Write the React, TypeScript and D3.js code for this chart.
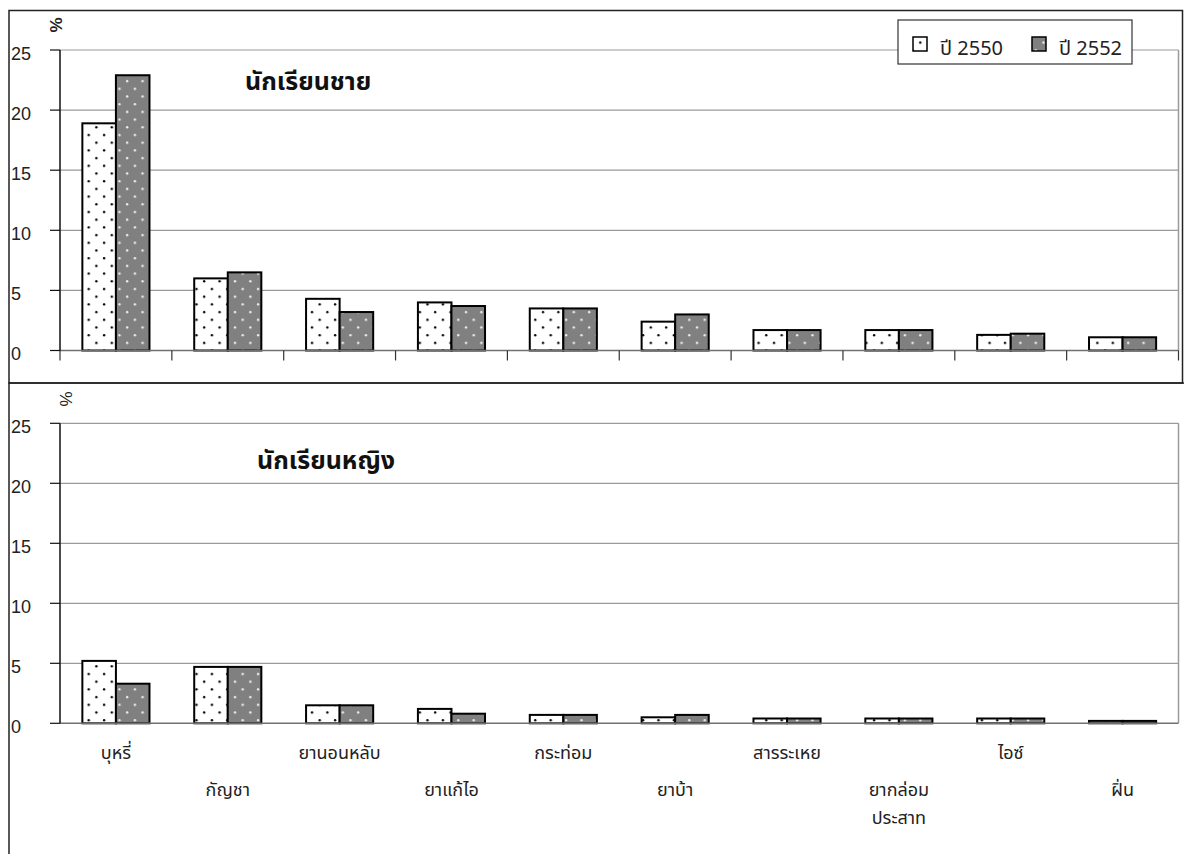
import React from "react";
import * as d3 from "d3";

const categories = [
  "บุหรี่",
  "กัญชา",
  "ยานอนหลับ",
  "ยาแก้ไอ",
  "กระท่อม",
  "ยาบ้า",
  "สารระเหย",
  "ยากล่อม\nประสาท",
  "ไอซ์",
  "ฝิ่น",
];
const seriesNames = ["ปี 2550", "ปี 2552"];
const male2550 = [18.9, 6.0, 4.3, 4.0, 3.5, 2.4, 1.7, 1.7, 1.3, 1.1];
const male2552 = [22.9, 6.5, 3.2, 3.7, 3.5, 3.0, 1.7, 1.7, 1.4, 1.1];
const female2550 = [5.2, 4.7, 1.5, 1.2, 0.7, 0.5, 0.4, 0.4, 0.4, 0.2];
const female2552 = [3.3, 4.7, 1.5, 0.8, 0.7, 0.7, 0.4, 0.4, 0.4, 0.2];
const yTicks = [0, 5, 10, 15, 20, 25];
const panelTitles = ["นักเรียนชาย", "นักเรียนหญิง"];

const THAI = '"Noto Sans Thai", "Loma", "Garuda", "Tahoma", "Noto Sans", sans-serif';
const LATIN = '"Liberation Sans", Arial, sans-serif';
const PLOT_L = 60;
const PLOT_R = 1178.5;
const fills = ["url(#dotsWhite)", "url(#dotsGray)"];

type PanelProps = {
  topY: number;
  zeroY: number;
  a: number[];
  b: number[];
  title: string;
  titleX: number;
  titleY: number;
  catTicks: boolean;
  pctX: number;
  pctY: number;
  pctBold: boolean;
};

function Panel(p: PanelProps) {
  const x = d3.scaleBand<string>().domain(categories).range([PLOT_L, PLOT_R]);
  const bw = x.bandwidth();
  const inner = d3
    .scaleBand<string>()
    .domain(["0", "1"])
    .range([bw * 0.2, bw * 0.8]);
  const y = d3.scaleLinear().domain([0, 25]).range([p.zeroY, p.topY]);
  const series = [p.a, p.b];
  const boundaries = d3.range(categories.length + 1).map((i) => PLOT_L + i * bw);
  return (
    <g>
      {yTicks
        .filter((t) => t > 0)
        .map((t) => (
          <line key={"g" + t} x1={PLOT_L} x2={PLOT_R} y1={y(t)} y2={y(t)} stroke="#9a9a9a" strokeWidth={1.2} />
        ))}
      <line x1={PLOT_R} x2={PLOT_R} y1={y(25)} y2={y(0)} stroke="#9a9a9a" strokeWidth={1.5} />
      {series.map((vals, si) =>
        vals.map((v, i) => (
          <rect
            key={si + "-" + i}
            x={(x(categories[i]) as number) + (inner(String(si)) as number)}
            y={y(v)}
            width={inner.bandwidth()}
            height={y(0) - y(v)}
            fill={fills[si]}
            stroke="#000"
            strokeWidth={2}
          />
        ))
      )}
      <line x1={PLOT_L} x2={PLOT_R} y1={y(0)} y2={y(0)} stroke="#707070" strokeWidth={1.6} />
      {p.catTicks &&
        boundaries.map((bx, i) => (
          <line key={"ct" + i} x1={bx} x2={bx} y1={y(0)} y2={y(0) + 10} stroke="#333" strokeWidth={1.2} />
        ))}
      <line x1={PLOT_L} x2={PLOT_L} y1={y(25)} y2={y(0)} stroke="#111" strokeWidth={1.5} />
      {yTicks.map((t) => (
        <g key={"yt" + t}>
          <line x1={PLOT_L - 10} x2={PLOT_L} y1={y(t)} y2={y(t)} stroke="#111" strokeWidth={1.2} />
          <text x={11} y={y(t) + 9.5} fontFamily={LATIN} fontSize={18} fill="#222">
            {t}
          </text>
        </g>
      ))}
      <text
        transform={`translate(${p.pctX},${p.pctY}) rotate(-90)`}
        textAnchor="middle"
        fontFamily={LATIN}
        fontSize={17}
        fontWeight={p.pctBold ? "bold" : "normal"}
        fill="#222"
      >
        %
      </text>
      <text x={p.titleX} y={p.titleY} fontFamily={THAI} fontSize={25} fontWeight="bold" fill="#111">
        {p.title}
      </text>
    </g>
  );
}

export default function App() {
  const x = d3.scaleBand<string>().domain(categories).range([PLOT_L, PLOT_R]);
  const bw = x.bandwidth();
  const rowBase = [759, 796];
  return (
    <svg
      width={1184}
      height={854}
      style={{ position: "absolute", left: 0, top: 0, background: "#fff" }}
    >
      <defs>
        <pattern id="dotsWhite" patternUnits="userSpaceOnUse" width={15.4} height={15.4}>
          <rect width={15.4} height={15.4} fill="#fff" />
          <circle cx={4} cy={4} r={1.2} fill="#000" />
          <circle cx={11.7} cy={11.7} r={1.2} fill="#000" />
        </pattern>
        <pattern id="dotsGray" patternUnits="userSpaceOnUse" width={15.4} height={15.4}>
          <rect width={15.4} height={15.4} fill="#808080" />
          <circle cx={4} cy={4} r={1.2} fill="#f0f0f0" />
          <circle cx={11.7} cy={11.7} r={1.2} fill="#f0f0f0" />
        </pattern>
      </defs>
      <rect x={0} y={0} width={1184} height={854} fill="#fff" />
      {/* outer frames */}
      <rect x={9} y={10.5} width={1173.5} height={372.5} fill="none" stroke="#222" strokeWidth={1.5} />
      <rect x={9} y={383} width={1190} height={500} fill="none" stroke="#222" strokeWidth={1.5} />

      <Panel
        topY={50}
        zeroY={350.5}
        a={male2550}
        b={male2552}
        title={panelTitles[0]}
        titleX={245}
        titleY={90}
        catTicks={true}
        pctX={62}
        pctY={25}
        pctBold={true}
      />
      <Panel
        topY={423.3}
        zeroY={723.3}
        a={female2550}
        b={female2552}
        title={panelTitles[1]}
        titleX={257}
        titleY={469}
        catTicks={false}
        pctX={72}
        pctY={399}
        pctBold={false}
      />

      {/* legend */}
      <g>
        <rect x={898} y={20} width={234} height={44} fill="#fff" stroke="#333" strokeWidth={1.2} />
        {seriesNames.map((s, i) => {
          const lx = 913 + i * 119;
          return (
            <g key={s}>
              <rect x={lx} y={37} width={14} height={14} fill={fills[i]} stroke="#000" strokeWidth={1.5} />
              <text x={lx + 27} y={55} fontFamily={THAI} fontSize={20} fill="#222">
                {s}
              </text>
            </g>
          );
        })}
      </g>

      {/* category labels */}
      {categories.map((c, i) => {
        const cx = (x(c) as number) + bw / 2;
        const lines = c.split("\n");
        return lines.map((ln, j) => (
          <text
            key={c + j}
            x={cx}
            y={rowBase[i % 2] + j * 28}
            textAnchor="middle"
            fontFamily={THAI}
            fontSize={18}
            fill="#222"
          >
            {ln}
          </text>
        ));
      })}
    </svg>
  );
}
